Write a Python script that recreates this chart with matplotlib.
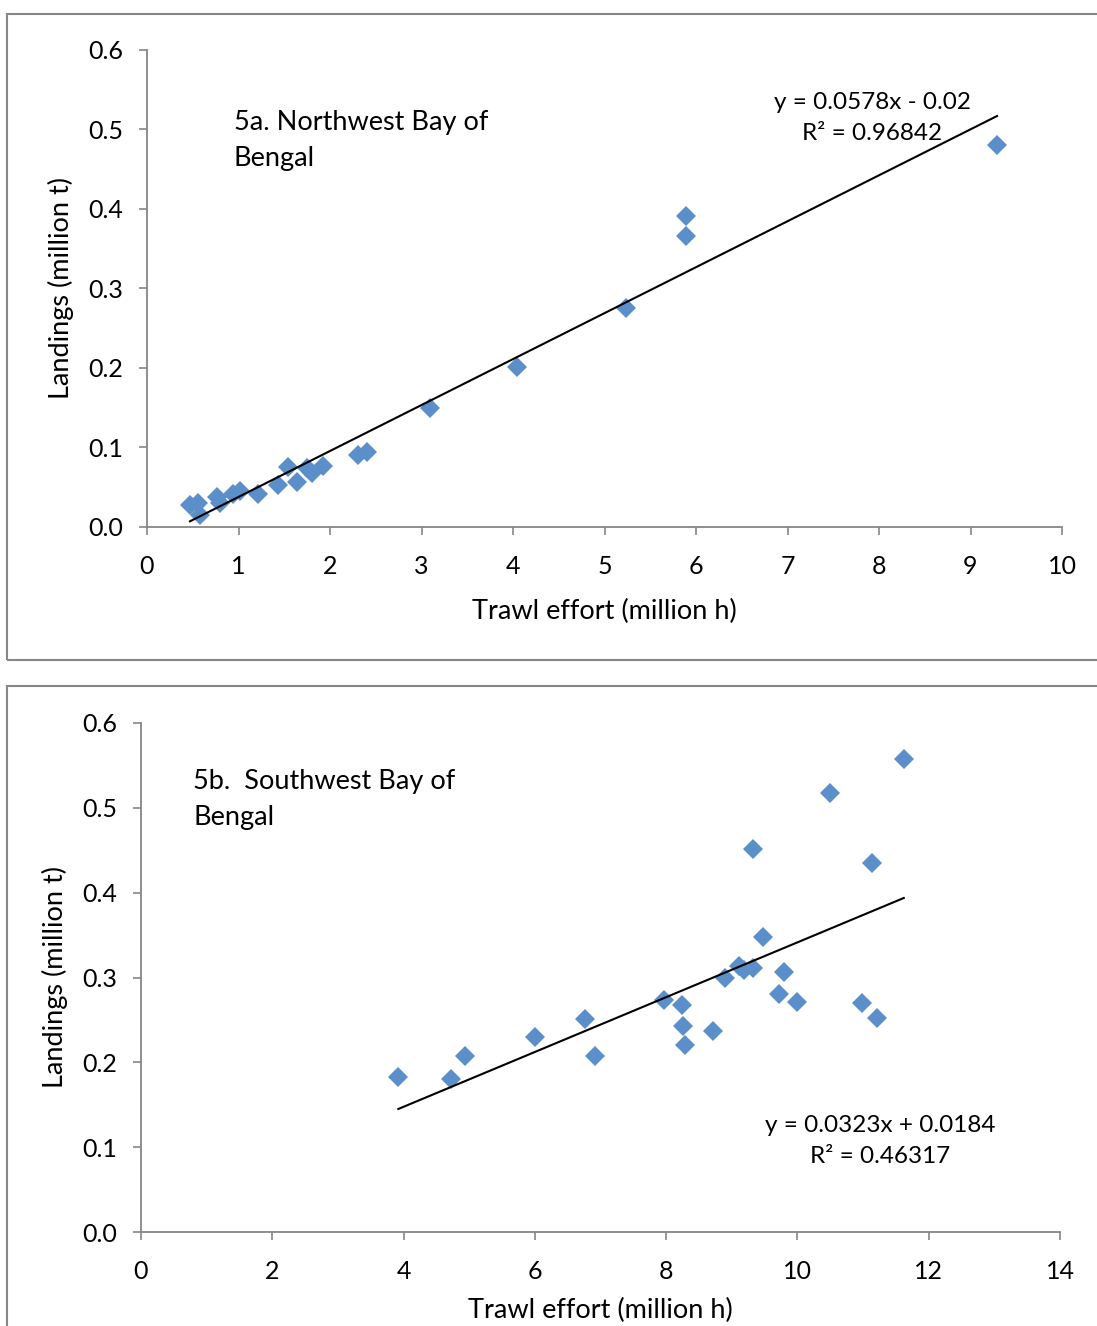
import numpy as np
import matplotlib
matplotlib.use("Agg")
from matplotlib import pyplot as plt
from matplotlib.patches import Rectangle

# 5a. Northwest Bay of Bengal
nw_effort = [0.47, 0.56, 0.58, 0.77, 0.80, 0.94, 1.02, 1.21, 1.43, 1.54, 1.64,
             1.75, 1.80, 1.92, 2.31, 2.40, 3.09, 4.04, 5.23, 5.89, 5.89, 9.29]
nw_landings = [0.028, 0.030, 0.015, 0.038, 0.030, 0.041, 0.045, 0.041, 0.053, 0.076, 0.057,
               0.074, 0.068, 0.077, 0.091, 0.094, 0.150, 0.201, 0.275, 0.391, 0.366, 0.480]
nw_slope, nw_intercept = 0.0578, -0.02
nw_eq = "y = 0.0578x - 0.02\nR² = 0.96842"

# 5b. Southwest Bay of Bengal
sw_effort = [3.92, 4.72, 4.94, 6.00, 6.77, 6.91, 7.96, 8.24, 8.26, 8.29, 8.72, 8.89, 9.11,
             9.19, 9.32, 9.33, 9.47, 9.80, 9.72, 10.00, 10.49, 10.99, 11.14, 11.21, 11.62]
sw_landings = [0.183, 0.180, 0.207, 0.230, 0.251, 0.207, 0.274, 0.267, 0.243, 0.221, 0.237,
               0.299, 0.314, 0.309, 0.311, 0.451, 0.348, 0.307, 0.281, 0.271, 0.517, 0.270,
               0.435, 0.252, 0.557]
sw_slope, sw_intercept = 0.0323, 0.0184
sw_eq = "y = 0.0323x + 0.0184\nR² = 0.46317"

plt.rcParams['font.family'] = ['Lato', 'DejaVu Sans']
FS = 19.5
BLUE = "#5B8FC9"
GRAY = "#868686"

fig = plt.figure(figsize=(10.97, 13.26), dpi=100)

# panel borders
fig.patches.append(Rectangle((7/1097, 1-660/1326), 1.2, (660-14)/1326, transform=fig.transFigure,
                             fill=False, edgecolor=GRAY, linewidth=1.5))
fig.patches.append(Rectangle((7/1097, -0.2), 1.2, 0.2+1-686/1326, transform=fig.transFigure,
                             fill=False, edgecolor=GRAY, linewidth=1.5))


def panel(rect, x, y, slope, intercept, xmax, xstep, title, title_xy, eq, eq_xy, xlabpad):
    ax = fig.add_axes(rect)
    ax.plot(x, y, linestyle="", marker="D", markersize=10, color=BLUE, markeredgewidth=0, zorder=2)
    xs = np.array([min(x), max(x)])
    ax.plot(xs, slope*xs + intercept, color="black", linewidth=1.5, zorder=3)
    ax.set_xlim(0, xmax)
    ax.set_ylim(0, 0.6)
    ax.set_xticks(np.arange(0, xmax + 0.01, xstep))
    ax.set_yticks(np.arange(0, 0.61, 0.1))
    ax.yaxis.set_major_formatter(matplotlib.ticker.FormatStrFormatter("%.1f"))
    for s in ["top", "right"]:
        ax.spines[s].set_visible(False)
    for s in ["left", "bottom"]:
        ax.spines[s].set_color(GRAY)
        ax.spines[s].set_linewidth(1.3)
    ax.tick_params(direction="out", length=6, width=1.2, color=GRAY, labelsize=18)
    ax.tick_params(axis="x", pad=14)
    ax.tick_params(axis="y", pad=11)
    ax.set_xlabel("Trawl effort (million h)", fontsize=FS, labelpad=xlabpad)
    ax.set_ylabel("Landings (million t)", fontsize=FS, labelpad=10)
    ax.text(title_xy[0], title_xy[1], title, transform=ax.transAxes, fontsize=FS,
            ha="left", va="top", linespacing=1.55)
    ax.text(eq_xy[0], eq_xy[1], eq, transform=ax.transAxes, fontsize=17.5,
            ha="center", va="top", linespacing=1.6)
    return ax


panel([147/1097, 1-527/1326, 915/1097, 477/1326], nw_effort, nw_landings, nw_slope, nw_intercept,
      10, 1, "5a. Northwest Bay of\nBengal", ((234-147)/915, (527-110)/477),
      nw_eq, ((872-147)/915, (527-92)/477), 15)
panel([141/1097, 1-1232/1326, 919/1097, 509/1326], sw_effort, sw_landings, sw_slope, sw_intercept,
      14, 2, "5b.  Southwest Bay of\nBengal", ((193-141)/919, (1232-769)/509),
      sw_eq, ((880-141)/919, (1232-1115)/509), 11)

fig.savefig("out.png", dpi=100)
